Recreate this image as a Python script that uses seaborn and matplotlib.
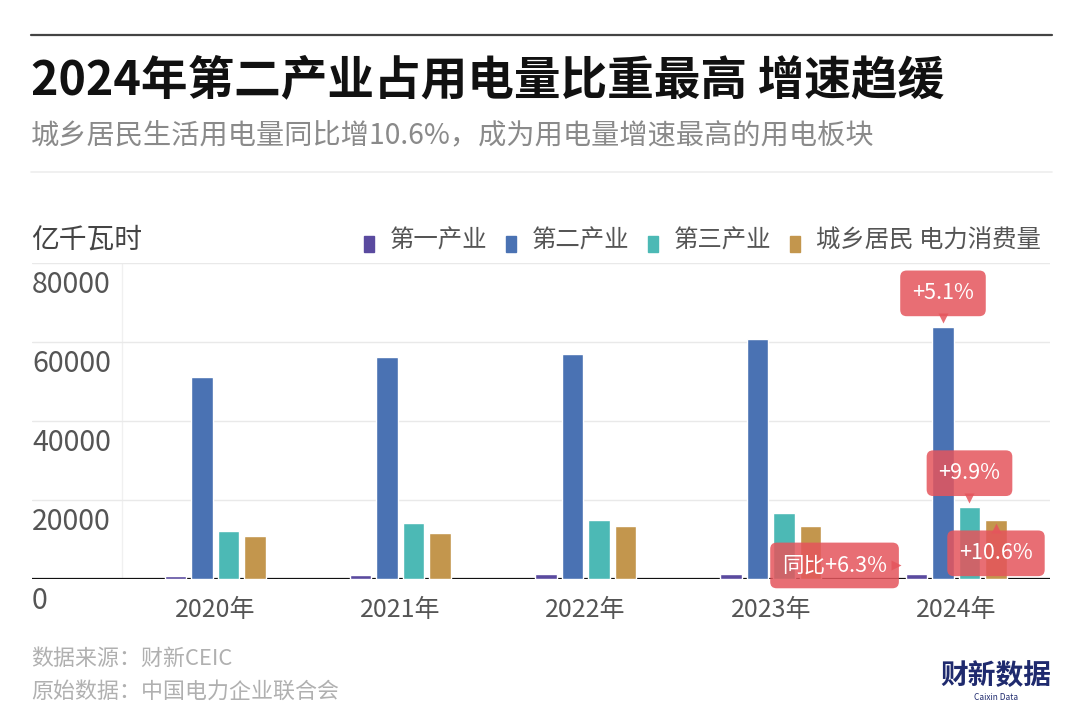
import numpy as np
import pandas as pd
import matplotlib.pyplot as plt
import seaborn as sns
from matplotlib.patches import Rectangle
from matplotlib.transforms import offset_copy

# data (亿千瓦时)
years = ['2020年', '2021年', '2022年', '2023年', '2024年']
sectors = ['第一产业', '第二产业', '第三产业', '城乡居民 电力消费量']
primary = [859, 1023, 1146, 1278, 1357]
secondary = [51215, 56131, 57001, 60745, 63874]
tertiary = [12087, 14231, 14859, 16694, 18348]
household = [10949, 11743, 13366, 13524, 14942]
yticks = [0, 20000, 40000, 60000, 80000]
colors = ['#5a4a9f', '#4a72b3', '#4cb9b5', '#c3964d']
red = '#e5555c'

df = pd.DataFrame({
    'year': years * 4,
    'sector': np.repeat(sectors, len(years)),
    'value': primary + secondary + tertiary + household,
})

sns.set_theme(style='white')
plt.rcParams['font.family'] = ['Noto Sans CJK SC', 'DejaVu Sans']

W, H = 1080, 724
fig = plt.figure(figsize=(W / 100, H / 100), dpi=100)


def fx(px):
    return px / W


def fy(py):
    return 1 - py / H


# header
fig.add_artist(plt.Line2D([fx(31), fx(1052)], [fy(35), fy(35)], color='#444444', lw=1.6))
fig.text(fx(31), fy(80), '2024年第二产业占用电量比重最高 增速趋缓', fontsize=33.6,
         fontweight='bold', color='#111111', va='center', ha='left')
fig.text(fx(31), fy(135), '城乡居民生活用电量同比增10.6%，成为用电量增速最高的用电板块',
         fontsize=20.3, color='#8a8a8a', va='center', ha='left')
fig.add_artist(plt.Line2D([fx(31), fx(1052)], [fy(172), fy(172)], color='#eeeeee', lw=1.2))

# unit + legend
fig.text(fx(31), fy(240), '亿千瓦时', fontsize=20, color='#444444', va='center', ha='left')
legend_x = [364, 506, 648, 790]
for lx, name, c in zip(legend_x, sectors, colors):
    fig.add_artist(Rectangle((fx(lx), fy(252)), 10 / W, 16 / H,
                             transform=fig.transFigure, color=c))
    fig.text(fx(lx + 26), fy(241), name, fontsize=17.6, color='#555555',
             va='center', ha='left')

# plot area
ax = fig.add_axes([fx(32), fy(579), fx(1050) - fx(32), fy(263) - fy(579)])
sns.barplot(data=df, x='year', y='value', hue='sector', palette=colors,
            width=0.572, gap=0.19, saturation=1, legend=False, ax=ax)

ax.set_xlim(-0.988, 4.506)
ax.set_ylim(0, 80000)
for s in ax.spines.values():
    s.set_visible(False)
ax.set_xlabel('')
ax.set_ylabel('')
ax.set_yticks(yticks)
ax.set_yticklabels([])
ax.yaxis.grid(True, color='#e9e9e9', lw=1)
ax.set_axisbelow(True)
ax.tick_params(axis='y', length=0)
ax.tick_params(axis='x', length=3, width=1.6, color='black', pad=10,
               labelsize=18, labelcolor='#555555', direction='out')
ax.axhline(0, color='#111111', lw=1.6, zorder=0.8)
ax.axvline(-0.5, color='#f0f0f0', lw=1, zorder=0)

for v in yticks:
    ax.annotate(f'{v}', (0, v), xycoords=ax.get_yaxis_transform(),
                xytext=(0, -16), textcoords='offset points',
                ha='left', va='center', fontsize=20.5, color='#555555')


# callouts
def callout(bar, label, dx, dy, marker, mdx, mdy):
    x = bar.get_x() + bar.get_width() / 2
    y = bar.get_height()
    ax.annotate(label, (x, y), xytext=(dx, dy), textcoords='offset points',
                ha='center', va='center', color='white', fontsize=15.5, zorder=10,
                bbox=dict(boxstyle='round,pad=0.55,rounding_size=0.3',
                          fc=red, ec='none', alpha=0.85))
    tr = offset_copy(ax.transData, fig=fig, x=mdx, y=mdy, units='points')
    ax.plot([x], [y], marker=marker, ms=7, color=red, alpha=0.85,
            mec='none', transform=tr, zorder=10, clip_on=False)


bars = ax.containers
callout(bars[1][4], '+5.1%', 0, 24, 'v', 0, 6)
callout(bars[2][4], '+9.9%', 0, 24, 'v', 0, 6)
callout(bars[3][4], '+10.6%', 0, -24, '^', 0, -6)
callout(bars[0][4], '同比+6.3%', -59, 5.9, '>', -14.5, 5.9)

# footer
fig.text(fx(31), fy(659), '数据来源：财新CEIC', fontsize=15.8, color='#b0b0b0', va='center')
fig.text(fx(31), fy(692), '原始数据：中国电力企业联合会', fontsize=15.8, color='#b0b0b0', va='center')
fig.text(fx(996), fy(677), '财新数据', fontsize=20, fontweight='bold', color='#1f2a6e',
         ha='center', va='center')
fig.text(fx(996), fy(698), 'Caixin Data', fontsize=6, color='#1f2a6e', ha='center', va='center')

fig.savefig('out.png', dpi=100)
